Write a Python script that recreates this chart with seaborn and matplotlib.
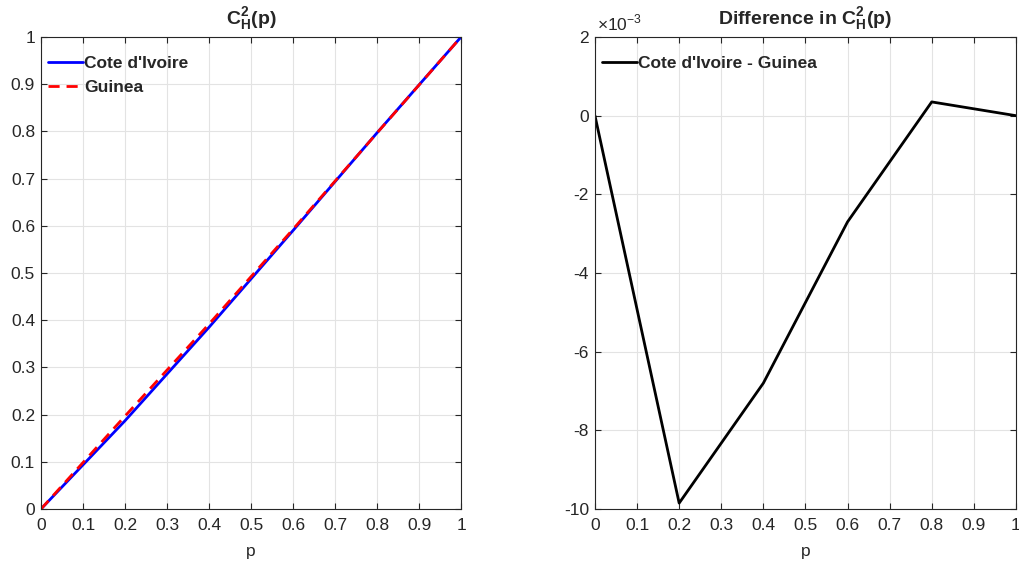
import seaborn as sns
import matplotlib.pyplot as plt
import pandas as pd

# data
p = [0.0, 0.2, 0.4, 0.6, 0.8, 1.0]
cote_divoire = [0.0, 0.187, 0.385, 0.590, 0.797, 1.0]
diff = [0.0, -9.85e-3, -6.8e-3, -2.7e-3, 0.35e-3, 0.0]
guinea = [c - d for c, d in zip(cote_divoire, diff)]

xticks = [0, 0.1, 0.2, 0.3, 0.4, 0.5, 0.6, 0.7, 0.8, 0.9, 1]
xtick_labels = ["0", "0.1", "0.2", "0.3", "0.4", "0.5", "0.6", "0.7", "0.8", "0.9", "1"]
left_yticks = xticks
right_yticks = [-10, -8, -6, -4, -2, 0, 2]

sns.set_style("whitegrid")
plt.rcParams["font.family"] = ["Liberation Sans", "DejaVu Sans"]
plt.rcParams["mathtext.fontset"] = "custom"
plt.rcParams["mathtext.rm"] = "Liberation Sans"
plt.rcParams["mathtext.bf"] = "Liberation Sans:bold"

df = pd.DataFrame({"p": p, "Cote d'Ivoire": cote_divoire, "Guinea": guinea,
                   "diff": [d * 1e3 for d in diff]})

fig = plt.figure(figsize=(10.2, 5.66), dpi=100)
ax1 = fig.add_axes([0.0402, 0.1007, 0.4118, 0.8339])
ax2 = fig.add_axes([0.5833, 0.1007, 0.4127, 0.8339])

sns.lineplot(data=df, x="p", y="Cote d'Ivoire", ax=ax1, color="#0000ff", lw=2, label="Cote d'Ivoire")
sns.lineplot(data=df, x="p", y="Guinea", ax=ax1, color="#ff0000", lw=2, ls=(0, (4, 2.5)), label="Guinea")
sns.lineplot(data=df, x="p", y="diff", ax=ax2, color="black", lw=2, label="Cote d'Ivoire - Guinea")

for ax in (ax1, ax2):
    ax.set_xlim(0, 1)
    ax.set_xticks(xticks)
    ax.set_xticklabels(xtick_labels)
    ax.set_xlabel("p", fontsize=12.5, color="#262626", labelpad=8)
    ax.set_ylabel("")
    ax.grid(True, color="#e3e3e3", lw=0.8)
    ax.tick_params(direction="in", length=4, color="#262626", labelcolor="#262626",
                   labelsize=12.5, top=True, right=True, bottom=True, left=True)
    ax.tick_params(axis="x", pad=6.5)
    ax.tick_params(axis="y", pad=4.3)
    for s in ax.spines.values():
        s.set_color("#262626")
        s.set_linewidth(0.8)
    ax.legend(loc="upper left", bbox_to_anchor=(0.0, 0.974), frameon=False, borderaxespad=0,
              handlelength=2.0, handletextpad=0.1, labelspacing=0.5,
              prop={"weight": "bold", "size": 12.5})

ax1.set_ylim(0, 1)
ax1.set_yticks(left_yticks)
ax1.set_yticklabels(xtick_labels)
ax1.set_title(r"$\mathbf{C_H^2}$(p)", fontsize=14, fontweight="bold", pad=9)

ax2.set_ylim(-10, 2)
ax2.set_yticks(right_yticks)
ax2.set_yticklabels([str(v) for v in right_yticks])
ax2.set_title(r"Difference in $\mathbf{C_H^2}$(p)", fontsize=14, fontweight="bold", pad=9)
ax2.text(0.004, 1.008, r"$\times$10$^{-3}$", transform=ax2.transAxes, fontsize=12.5,
         color="#262626", va="bottom", ha="left")

fig.savefig("out.png", dpi=100)
